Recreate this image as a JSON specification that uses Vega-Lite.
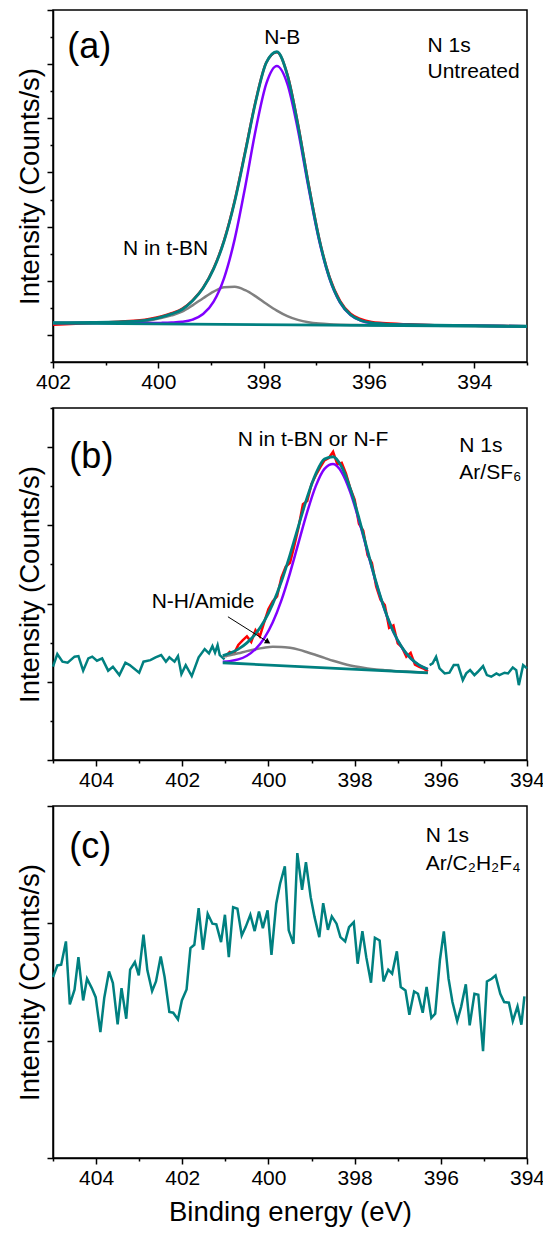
{
  "$schema": "https://vega.github.io/schema/vega-lite/v6.json",
  "padding": {"left": 15, "top": 8, "right": 0, "bottom": 0},
  "spacing": 46,
  "bounds": "flush",
  "config": {
    "font": "Liberation Sans",
    "view": {"stroke": "black", "strokeWidth": 1.5},
    "axis": {"grid": false, "domainColor": "black", "domainWidth": 1.5, "tickColor": "black", "tickWidth": 1.5, "labelColor": "black", "titleColor": "black", "labelFont": "Liberation Sans", "titleFont": "Liberation Sans", "labelFontSize": 21, "titleFontSize": 27.5, "titleFontWeight": "normal", "labelFlush": false, "labelOverlap": false, "labelPadding": 3},
    "text": {"font": "Liberation Sans", "color": "black"}
  },
  "datasets": {
    "a_curves": [
      {"x": 402, "Data": 1.19, "NB": 1.222, "tBN": 1.220, "Envelope": 1.225},
      {"x": 401.25, "Data": 1.22, "NB": 1.220, "tBN": 1.225, "Envelope": 1.232},
      {"x": 400.75, "Data": 1.245, "NB": 1.218, "tBN": 1.232, "Envelope": 1.242},
      {"x": 400.35, "Data": 1.27, "NB": 1.219, "tBN": 1.245, "Envelope": 1.258},
      {"x": 400.15, "Data": 1.30, "NB": 1.219, "tBN": 1.270, "Envelope": 1.285},
      {"x": 399.95, "Data": 1.34, "NB": 1.222, "tBN": 1.310, "Envelope": 1.330},
      {"x": 399.75, "Data": 1.40, "NB": 1.228, "tBN": 1.360, "Envelope": 1.388},
      {"x": 399.55, "Data": 1.48, "NB": 1.242, "tBN": 1.428, "Envelope": 1.470},
      {"x": 399.35, "Data": 1.64, "NB": 1.283, "tBN": 1.546, "Envelope": 1.630},
      {"x": 399.15, "Data": 1.87, "NB": 1.385, "tBN": 1.678, "Envelope": 1.866},
      {"x": 398.95, "Data": 2.23, "NB": 1.615, "tBN": 1.800, "Envelope": 2.219},
      {"x": 398.75, "Data": 2.75, "NB": 2.055, "tBN": 1.879, "Envelope": 2.739},
      {"x": 398.55, "Data": 3.48, "NB": 2.769, "tBN": 1.888, "Envelope": 3.464},
      {"x": 398.35, "Data": 4.39, "NB": 3.738, "tBN": 1.826, "Envelope": 4.372},
      {"x": 398.15, "Data": 5.33, "NB": 4.795, "tBN": 1.711, "Envelope": 5.315},
      {"x": 397.95, "Data": 6.03, "NB": 5.641, "tBN": 1.575, "Envelope": 6.027},
      {"x": 397.75, "Data": 6.22, "NB": 5.968, "tBN": 1.449, "Envelope": 6.229},
      {"x": 397.55, "Data": 5.81, "NB": 5.638, "tBN": 1.347, "Envelope": 5.799},
      {"x": 397.35, "Data": 4.90, "NB": 4.789, "tBN": 1.277, "Envelope": 4.881},
      {"x": 397.15, "Data": 3.80, "NB": 3.729, "tBN": 1.233, "Envelope": 3.779},
      {"x": 396.95, "Data": 2.80, "NB": 2.758, "tBN": 1.209, "Envelope": 2.785},
      {"x": 396.75, "Data": 2.07, "NB": 2.041, "tBN": 1.196, "Envelope": 2.056},
      {"x": 396.55, "Data": 1.63, "NB": 1.598, "tBN": 1.189, "Envelope": 1.608},
      {"x": 396.35, "Data": 1.39, "NB": 1.366, "tBN": 1.185, "Envelope": 1.373},
      {"x": 396.15, "Data": 1.29, "NB": 1.261, "tBN": 1.183, "Envelope": 1.267},
      {"x": 395.95, "Data": 1.24, "NB": 1.217, "tBN": 1.180, "Envelope": 1.222},
      {"x": 395.75, "Data": 1.22, "NB": 1.200, "tBN": 1.179, "Envelope": 1.205},
      {"x": 395.25, "Data": 1.195, "NB": 1.185, "tBN": 1.175, "Envelope": 1.189},
      {"x": 394.75, "Data": 1.18, "NB": 1.177, "tBN": 1.170, "Envelope": 1.180},
      {"x": 394, "Data": 1.17, "NB": 1.169, "tBN": 1.164, "Envelope": 1.171},
      {"x": 393, "Data": 1.16, "NB": 1.159, "tBN": 1.157, "Envelope": 1.161}
    ],
    "a_bg": [{"x": 402, "y": 1.217}, {"x": 393, "y": 1.155}],
    "b_left": [
      {"x": 405.00, "y": 1.193}, {"x": 404.90, "y": 1.354}, {"x": 404.78, "y": 1.257}, {"x": 404.66, "y": 1.244},
      {"x": 404.50, "y": 1.321}, {"x": 404.41, "y": 1.328}, {"x": 404.30, "y": 1.142}, {"x": 404.18, "y": 1.299},
      {"x": 404.09, "y": 1.321}, {"x": 403.98, "y": 1.269}, {"x": 403.86, "y": 1.299}, {"x": 403.72, "y": 1.142},
      {"x": 403.61, "y": 1.193}, {"x": 403.46, "y": 1.086}, {"x": 403.32, "y": 1.244}, {"x": 403.22, "y": 1.213},
      {"x": 403.00, "y": 1.116}, {"x": 402.90, "y": 1.257}, {"x": 402.74, "y": 1.277}, {"x": 402.62, "y": 1.312},
      {"x": 402.49, "y": 1.341}, {"x": 402.38, "y": 1.257}, {"x": 402.30, "y": 1.312}, {"x": 402.18, "y": 1.257},
      {"x": 402.10, "y": 1.328}, {"x": 402.02, "y": 1.098}, {"x": 401.92, "y": 1.213}, {"x": 401.78, "y": 1.073},
      {"x": 401.62, "y": 1.312}, {"x": 401.48, "y": 1.418}, {"x": 401.38, "y": 1.363}, {"x": 401.30, "y": 1.456},
      {"x": 401.24, "y": 1.372}, {"x": 401.18, "y": 1.469}, {"x": 401.13, "y": 1.341}, {"x": 401.02, "y": 1.286}
    ],
    "b_right": [
      {"x": 396.26, "y": 1.213}, {"x": 396.19, "y": 1.235}, {"x": 396.11, "y": 1.320}, {"x": 396.03, "y": 1.171},
      {"x": 395.91, "y": 1.107}, {"x": 395.80, "y": 1.116}, {"x": 395.70, "y": 1.213}, {"x": 395.60, "y": 1.213},
      {"x": 395.49, "y": 1.021}, {"x": 395.41, "y": 1.107}, {"x": 395.32, "y": 1.149}, {"x": 395.22, "y": 1.085},
      {"x": 395.14, "y": 1.128}, {"x": 395.02, "y": 1.200}, {"x": 394.93, "y": 1.085}, {"x": 394.83, "y": 1.065},
      {"x": 394.71, "y": 1.107}, {"x": 394.64, "y": 1.085}, {"x": 394.52, "y": 1.116}, {"x": 394.44, "y": 1.107},
      {"x": 394.33, "y": 1.183}, {"x": 394.25, "y": 1.149}, {"x": 394.19, "y": 0.957}, {"x": 394.09, "y": 1.213},
      {"x": 394.00, "y": 1.171}
    ],
    "b_red": [
      {"x": 401.0, "y": 1.32}, {"x": 400.9, "y": 1.38}, {"x": 400.8, "y": 1.36}, {"x": 400.7, "y": 1.47},
      {"x": 400.6, "y": 1.53}, {"x": 400.5, "y": 1.58}, {"x": 400.4, "y": 1.51}, {"x": 400.3, "y": 1.66},
      {"x": 400.2, "y": 1.58}, {"x": 400.1, "y": 1.76}, {"x": 400.0, "y": 1.93}, {"x": 399.9, "y": 2.03},
      {"x": 399.8, "y": 2.09}, {"x": 399.7, "y": 2.33}, {"x": 399.6, "y": 2.47}, {"x": 399.5, "y": 2.52},
      {"x": 399.4, "y": 2.74}, {"x": 399.3, "y": 2.98}, {"x": 399.2, "y": 3.27}, {"x": 399.1, "y": 3.31},
      {"x": 399.0, "y": 3.53}, {"x": 398.9, "y": 3.64}, {"x": 398.8, "y": 3.74}, {"x": 398.7, "y": 3.83},
      {"x": 398.6, "y": 3.86}, {"x": 398.5, "y": 3.94}, {"x": 398.4, "y": 3.78}, {"x": 398.3, "y": 3.80},
      {"x": 398.2, "y": 3.66}, {"x": 398.1, "y": 3.47}, {"x": 398.0, "y": 3.33}, {"x": 397.9, "y": 3.02},
      {"x": 397.8, "y": 2.93}, {"x": 397.7, "y": 2.62}, {"x": 397.6, "y": 2.52}, {"x": 397.5, "y": 2.22},
      {"x": 397.4, "y": 2.05}, {"x": 397.3, "y": 1.98}, {"x": 397.2, "y": 1.69}, {"x": 397.1, "y": 1.72},
      {"x": 397.0, "y": 1.49}, {"x": 396.9, "y": 1.44}, {"x": 396.8, "y": 1.32}, {"x": 396.7, "y": 1.37},
      {"x": 396.6, "y": 1.22}, {"x": 396.5, "y": 1.19}, {"x": 396.4, "y": 1.17}, {"x": 396.3, "y": 1.13}
    ],
    "b_fit": [
      {"x": 401.06, "tBN": 1.321, "NB": 1.256, "Envelope": 1.334},
      {"x": 400.9, "tBN": 1.339, "NB": 1.264, "Envelope": 1.364},
      {"x": 400.7, "tBN": 1.364, "NB": 1.286, "Envelope": 1.417},
      {"x": 400.5, "tBN": 1.392, "NB": 1.333, "Envelope": 1.497},
      {"x": 400.3, "tBN": 1.417, "NB": 1.418, "Envelope": 1.612},
      {"x": 400.1, "tBN": 1.436, "NB": 1.555, "Envelope": 1.774},
      {"x": 399.9, "tBN": 1.447, "NB": 1.761, "Envelope": 1.996},
      {"x": 399.7, "tBN": 1.446, "NB": 2.041, "Envelope": 2.281},
      {"x": 399.5, "tBN": 1.434, "NB": 2.390, "Envelope": 2.623},
      {"x": 399.3, "tBN": 1.411, "NB": 2.782, "Envelope": 2.997},
      {"x": 399.1, "tBN": 1.378, "NB": 3.172, "Envelope": 3.360},
      {"x": 398.9, "tBN": 1.342, "NB": 3.504, "Envelope": 3.661},
      {"x": 398.7, "tBN": 1.305, "NB": 3.722, "Envelope": 3.847},
      {"x": 398.5, "tBN": 1.268, "NB": 3.783, "Envelope": 3.877},
      {"x": 398.3, "tBN": 1.237, "NB": 3.678, "Envelope": 3.746},
      {"x": 398.1, "tBN": 1.209, "NB": 3.422, "Envelope": 3.468},
      {"x": 397.9, "tBN": 1.188, "NB": 3.063, "Envelope": 3.093},
      {"x": 397.7, "tBN": 1.171, "NB": 2.658, "Envelope": 2.676},
      {"x": 397.5, "tBN": 1.158, "NB": 2.260, "Envelope": 2.271},
      {"x": 397.3, "tBN": 1.148, "NB": 1.914, "Envelope": 1.920},
      {"x": 397.1, "tBN": 1.139, "NB": 1.637, "Envelope": 1.640},
      {"x": 396.9, "tBN": 1.133, "NB": 1.435, "Envelope": 1.437},
      {"x": 396.7, "tBN": 1.127, "NB": 1.299, "Envelope": 1.300},
      {"x": 396.5, "tBN": 1.121, "NB": 1.212, "Envelope": 1.213},
      {"x": 396.3, "tBN": 1.115, "NB": 1.161, "Envelope": 1.161}
    ],
    "b_bg": [{"x": 401.06, "y": 1.243}, {"x": 396.3, "y": 1.115}],
    "c_data": [
      {"x": 405.00, "y": 1.542}, {"x": 404.90, "y": 1.641}, {"x": 404.81, "y": 1.647}, {"x": 404.70, "y": 1.846},
      {"x": 404.61, "y": 1.309}, {"x": 404.50, "y": 1.434}, {"x": 404.41, "y": 1.712}, {"x": 404.30, "y": 1.343},
      {"x": 404.21, "y": 1.528}, {"x": 404.10, "y": 1.448}, {"x": 404.01, "y": 1.371}, {"x": 403.90, "y": 1.073},
      {"x": 403.81, "y": 1.366}, {"x": 403.70, "y": 1.590}, {"x": 403.61, "y": 1.491}, {"x": 403.50, "y": 1.139},
      {"x": 403.41, "y": 1.448}, {"x": 403.30, "y": 1.187}, {"x": 403.21, "y": 1.605}, {"x": 403.10, "y": 1.670},
      {"x": 403.01, "y": 1.556}, {"x": 402.90, "y": 1.903}, {"x": 402.81, "y": 1.599}, {"x": 402.70, "y": 1.423},
      {"x": 402.61, "y": 1.505}, {"x": 402.50, "y": 1.718}, {"x": 402.41, "y": 1.542}, {"x": 402.30, "y": 1.244},
      {"x": 402.21, "y": 1.238}, {"x": 402.10, "y": 1.181}, {"x": 402.01, "y": 1.343}, {"x": 401.90, "y": 1.437},
      {"x": 401.81, "y": 1.789}, {"x": 401.72, "y": 1.817}, {"x": 401.62, "y": 2.130}, {"x": 401.52, "y": 1.775},
      {"x": 401.41, "y": 2.081}, {"x": 401.30, "y": 1.997}, {"x": 401.21, "y": 1.991}, {"x": 401.10, "y": 1.840},
      {"x": 401.01, "y": 2.073}, {"x": 400.92, "y": 1.712}, {"x": 400.82, "y": 2.138}, {"x": 400.72, "y": 2.124},
      {"x": 400.62, "y": 1.897}, {"x": 400.53, "y": 1.968}, {"x": 400.42, "y": 2.073}, {"x": 400.32, "y": 1.934},
      {"x": 400.22, "y": 2.101}, {"x": 400.13, "y": 1.959}, {"x": 400.02, "y": 2.110}, {"x": 399.93, "y": 1.732},
      {"x": 399.82, "y": 2.167}, {"x": 399.73, "y": 2.337}, {"x": 399.62, "y": 2.485}, {"x": 399.53, "y": 1.940},
      {"x": 399.42, "y": 1.826}, {"x": 399.33, "y": 2.598}, {"x": 399.22, "y": 2.286}, {"x": 399.13, "y": 2.521},
      {"x": 399.02, "y": 2.223}, {"x": 398.93, "y": 2.053}, {"x": 398.82, "y": 1.882}, {"x": 398.73, "y": 2.172},
      {"x": 398.62, "y": 1.945}, {"x": 398.53, "y": 2.059}, {"x": 398.42, "y": 1.997}, {"x": 398.33, "y": 1.882},
      {"x": 398.22, "y": 1.846}, {"x": 398.13, "y": 1.968}, {"x": 398.02, "y": 2.010}, {"x": 397.93, "y": 1.656},
      {"x": 397.82, "y": 1.934}, {"x": 397.73, "y": 1.712}, {"x": 397.62, "y": 1.494}, {"x": 397.53, "y": 1.877},
      {"x": 397.42, "y": 1.854}, {"x": 397.33, "y": 1.505}, {"x": 397.22, "y": 1.605}, {"x": 397.13, "y": 1.571},
      {"x": 397.02, "y": 1.761}, {"x": 396.93, "y": 1.457}, {"x": 396.82, "y": 1.428}, {"x": 396.73, "y": 1.221},
      {"x": 396.62, "y": 1.420}, {"x": 396.53, "y": 1.400}, {"x": 396.42, "y": 1.238}, {"x": 396.33, "y": 1.457},
      {"x": 396.22, "y": 1.193}, {"x": 396.13, "y": 1.230}, {"x": 396.02, "y": 1.690}, {"x": 395.93, "y": 1.931},
      {"x": 395.82, "y": 1.528}, {"x": 395.73, "y": 1.329}, {"x": 395.62, "y": 1.167}, {"x": 395.53, "y": 1.286},
      {"x": 395.42, "y": 1.480}, {"x": 395.33, "y": 1.130}, {"x": 395.22, "y": 1.400}, {"x": 395.13, "y": 1.392},
      {"x": 395.02, "y": 0.911}, {"x": 394.93, "y": 1.505}, {"x": 394.82, "y": 1.528}, {"x": 394.73, "y": 1.556},
      {"x": 394.62, "y": 1.400}, {"x": 394.53, "y": 1.329}, {"x": 394.42, "y": 1.324}, {"x": 394.33, "y": 1.167},
      {"x": 394.22, "y": 1.292}, {"x": 394.13, "y": 1.136}, {"x": 394.06, "y": 1.377}
    ]
  },
  "vconcat": [
    {
      "width": 474,
      "height": 352,
      "resolve": {"axis": {"x": "independent", "y": "independent"}},
      "layer": [
        {
          "data": {"name": "a_curves"},
          "mark": {"type": "line", "color": "#ff0000", "strokeWidth": 2.5, "interpolate": "monotone"},
          "encoding": {
            "x": {"field": "x", "type": "quantitative", "scale": {"domain": [402, 393], "nice": false, "zero": false},
                  "axis": {"orient": "bottom", "values": [402, 400, 398, 396, 394], "tickSize": 6, "title": null}},
            "y": {"field": "Data", "type": "quantitative", "scale": {"domain": [0.5, 7], "nice": false, "zero": false},
                  "axis": {"orient": "left", "values": [1, 2, 3, 4, 5, 6, 7], "tickSize": 6, "labels": false, "title": "Intensity (Counts/s)", "titlePadding": 2}}
          }
        },
        {
          "data": {"name": "a_curves"},
          "mark": {"type": "line", "color": "#808080", "strokeWidth": 2.5, "interpolate": "monotone"},
          "encoding": {
            "x": {"field": "x", "type": "quantitative", "axis": {"orient": "bottom", "values": [401, 399, 397, 395, 393], "tickSize": 3, "labels": false, "domain": false, "title": null}},
            "y": {"field": "tBN", "type": "quantitative", "axis": {"orient": "left", "values": [0.5, 1.5, 2.5, 3.5, 4.5, 5.5, 6.5], "tickSize": 3, "labels": false, "domain": false, "title": null}}
          }
        },
        {
          "data": {"name": "a_curves"},
          "mark": {"type": "line", "color": "#8000ff", "strokeWidth": 2.5, "interpolate": "monotone"},
          "encoding": {
            "x": {"field": "x", "type": "quantitative", "axis": null},
            "y": {"field": "NB", "type": "quantitative", "axis": null}
          }
        },
        {
          "data": {"name": "a_curves"},
          "mark": {"type": "line", "color": "#008080", "strokeWidth": 2.8, "interpolate": "monotone"},
          "encoding": {
            "x": {"field": "x", "type": "quantitative", "axis": null},
            "y": {"field": "Envelope", "type": "quantitative", "axis": null}
          }
        },
        {
          "data": {"name": "a_bg"},
          "mark": {"type": "line", "color": "#008080", "strokeWidth": 2.8},
          "encoding": {
            "x": {"field": "x", "type": "quantitative", "axis": null},
            "y": {"field": "y", "type": "quantitative", "axis": null}
          }
        },
        {
          "data": {"values": [{"x": 401.73, "y": 6.12, "label": "(a)"}]},
          "mark": {"type": "text", "fontSize": 36, "align": "left", "baseline": "alphabetic"},
          "encoding": {
            "x": {"field": "x", "type": "quantitative", "axis": null},
            "y": {"field": "y", "type": "quantitative", "axis": null},
            "text": {"field": "label"}
          }
        },
        {
          "data": {"values": [
            {"x": 397.99, "y": 6.375, "label": "N-B"},
            {"x": 394.89, "y": 6.227, "label": "N 1s"},
            {"x": 394.89, "y": 5.747, "label": "Untreated"},
            {"x": 400.67, "y": 2.479, "label": "N in t-BN"}
          ]},
          "mark": {"type": "text", "fontSize": 21, "align": "left", "baseline": "alphabetic"},
          "encoding": {
            "x": {"field": "x", "type": "quantitative", "axis": null},
            "y": {"field": "y", "type": "quantitative", "axis": null},
            "text": {"field": "label"}
          }
        }
      ]
    },
    {
      "width": 474,
      "height": 352,
      "resolve": {"axis": {"x": "independent", "y": "independent"}},
      "layer": [
        {
          "data": {"name": "b_left"},
          "mark": {"type": "line", "color": "#008080", "strokeWidth": 2.5},
          "encoding": {
            "x": {"field": "x", "type": "quantitative", "scale": {"domain": [405, 394], "nice": false, "zero": false},
                  "axis": {"orient": "bottom", "values": [404, 402, 400, 398, 396, 394], "tickSize": 6, "title": null}},
            "y": {"field": "y", "type": "quantitative", "scale": {"domain": [0, 4.5], "nice": false, "zero": false},
                  "axis": {"orient": "left", "values": [0, 1, 2, 3, 4], "tickSize": 6, "labels": false, "title": "Intensity (Counts/s)", "titlePadding": 2}}
          }
        },
        {
          "data": {"name": "b_right"},
          "mark": {"type": "line", "color": "#008080", "strokeWidth": 2.5},
          "encoding": {
            "x": {"field": "x", "type": "quantitative", "axis": {"orient": "bottom", "values": [405, 403, 401, 399, 397, 395], "tickSize": 3, "labels": false, "domain": false, "title": null}},
            "y": {"field": "y", "type": "quantitative", "axis": {"orient": "left", "values": [0.5, 1.5, 2.5, 3.5, 4.5], "tickSize": 3, "labels": false, "domain": false, "title": null}}
          }
        },
        {
          "data": {"name": "b_red"},
          "mark": {"type": "line", "color": "#ff0000", "strokeWidth": 2.5},
          "encoding": {
            "x": {"field": "x", "type": "quantitative", "axis": null},
            "y": {"field": "y", "type": "quantitative", "axis": null}
          }
        },
        {
          "data": {"name": "b_fit"},
          "mark": {"type": "line", "color": "#808080", "strokeWidth": 2.5, "interpolate": "monotone"},
          "encoding": {
            "x": {"field": "x", "type": "quantitative", "axis": null},
            "y": {"field": "tBN", "type": "quantitative", "axis": null}
          }
        },
        {
          "data": {"name": "b_fit"},
          "mark": {"type": "line", "color": "#8000ff", "strokeWidth": 2.5, "interpolate": "monotone"},
          "encoding": {
            "x": {"field": "x", "type": "quantitative", "axis": null},
            "y": {"field": "NB", "type": "quantitative", "axis": null}
          }
        },
        {
          "data": {"name": "b_fit"},
          "mark": {"type": "line", "color": "#008080", "strokeWidth": 2.8, "interpolate": "monotone"},
          "encoding": {
            "x": {"field": "x", "type": "quantitative", "axis": null},
            "y": {"field": "Envelope", "type": "quantitative", "axis": null}
          }
        },
        {
          "data": {"name": "b_bg"},
          "mark": {"type": "line", "color": "#008080", "strokeWidth": 2.8},
          "encoding": {
            "x": {"field": "x", "type": "quantitative", "axis": null},
            "y": {"field": "y", "type": "quantitative", "axis": null}
          }
        },
        {
          "data": {"values": [{"x": 400.94, "y": 1.831, "x2": 400.03, "y2": 1.515}]},
          "mark": {"type": "rule", "color": "black", "strokeWidth": 1},
          "encoding": {
            "x": {"field": "x", "type": "quantitative", "axis": null},
            "y": {"field": "y", "type": "quantitative", "axis": null},
            "x2": {"field": "x2"},
            "y2": {"field": "y2"}
          }
        },
        {
          "data": {"values": [{"x": 400.03, "y": 1.515}]},
          "mark": {"type": "point", "shape": "triangle", "angle": 122, "filled": true, "color": "black", "size": 40, "opacity": 1},
          "encoding": {
            "x": {"field": "x", "type": "quantitative", "axis": null},
            "y": {"field": "y", "type": "quantitative", "axis": null}
          }
        },
        {
          "data": {"values": [{"x": 404.62, "y": 3.737, "label": "(b)"}]},
          "mark": {"type": "text", "fontSize": 36, "align": "left", "baseline": "alphabetic"},
          "encoding": {
            "x": {"field": "x", "type": "quantitative", "axis": null},
            "y": {"field": "y", "type": "quantitative", "axis": null},
            "text": {"field": "label"}
          }
        },
        {
          "data": {"values": [
            {"x": 400.71, "y": 4.02, "label": "N in t-BN or N-F"},
            {"x": 395.57, "y": 3.937, "label": "N 1s"},
            {"x": 395.57, "y": 3.596, "label": "Ar/SF₆"},
            {"x": 402.71, "y": 1.937, "label": "N-H/Amide"}
          ]},
          "mark": {"type": "text", "fontSize": 21, "align": "left", "baseline": "alphabetic"},
          "encoding": {
            "x": {"field": "x", "type": "quantitative", "axis": null},
            "y": {"field": "y", "type": "quantitative", "axis": null},
            "text": {"field": "label"}
          }
        }
      ]
    },
    {
      "width": 474,
      "height": 352,
      "resolve": {"axis": {"x": "independent", "y": "independent"}},
      "layer": [
        {
          "data": {"name": "c_data"},
          "mark": {"type": "line", "color": "#008080", "strokeWidth": 2.5},
          "encoding": {
            "x": {"field": "x", "type": "quantitative", "scale": {"domain": [405, 394], "nice": false, "zero": false},
                  "axis": {"orient": "bottom", "values": [404, 402, 400, 398, 396, 394], "tickSize": 6, "title": "Binding energy (eV)", "titlePadding": 10}},
            "y": {"field": "y", "type": "quantitative", "scale": {"domain": [0, 3], "nice": false, "zero": false},
                  "axis": {"orient": "left", "values": [0, 1, 2, 3], "tickSize": 6, "labels": false, "title": "Intensity (Counts/s)", "titlePadding": 2}}
          }
        },
        {
          "data": {"values": [{"x": 404.62, "y": 2.558, "label": "(c)"}]},
          "mark": {"type": "text", "fontSize": 36, "align": "left", "baseline": "alphabetic"},
          "encoding": {
            "x": {"field": "x", "type": "quantitative", "axis": {"orient": "bottom", "values": [405, 403, 401, 399, 397, 395], "tickSize": 3, "labels": false, "domain": false, "title": null}},
            "y": {"field": "y", "type": "quantitative", "axis": null},
            "text": {"field": "label"}
          }
        },
        {
          "data": {"values": [
            {"x": 396.35, "y": 2.692, "label": "N 1s"},
            {"x": 396.35, "y": 2.457, "label": "Ar/C₂H₂F₄"}
          ]},
          "mark": {"type": "text", "fontSize": 21, "align": "left", "baseline": "alphabetic"},
          "encoding": {
            "x": {"field": "x", "type": "quantitative", "axis": null},
            "y": {"field": "y", "type": "quantitative", "axis": null},
            "text": {"field": "label"}
          }
        }
      ]
    }
  ]
}
